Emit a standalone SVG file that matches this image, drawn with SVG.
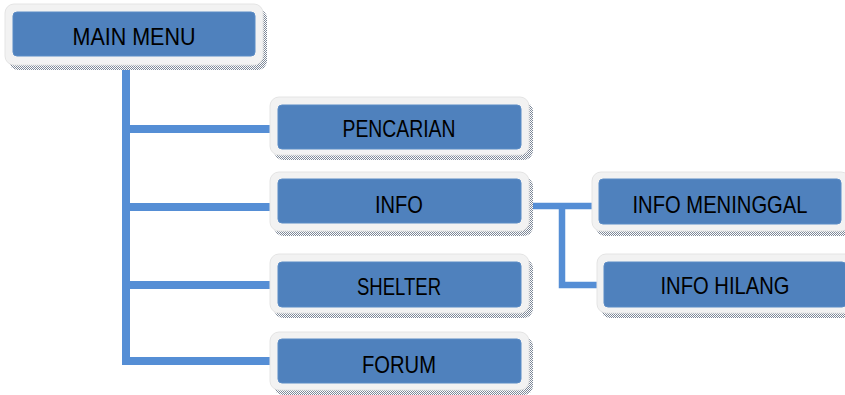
<svg xmlns="http://www.w3.org/2000/svg" width="845" height="395" viewBox="0 0 845 395">
<defs>
<pattern id="dots" width="2" height="2" patternUnits="userSpaceOnUse">
<rect width="2" height="2" fill="#ffffff"/>
<rect width="1" height="1" fill="#7d8898"/>
<rect x="1" y="1" width="1" height="1" fill="#7d8898"/>
</pattern>
</defs>
<style>
.sh{fill:url(#dots);}
.fr{fill:#f2f2f2;stroke:#e4e4e4;stroke-width:1;}
.bx{fill:#4f81bd;stroke:#5b8cc6;stroke-width:1;}
.tx{font-family:"Liberation Sans",Arial,sans-serif;font-size:24px;fill:#000;text-anchor:middle;}
.ln{fill:none;stroke:#558ed5;stroke-width:8;stroke-linejoin:miter;}
.ln2{fill:none;stroke:#558ed5;stroke-width:6.5;stroke-linejoin:miter;}
</style>
<g id="connectors">
<path class="ln" d="M126 63 V361 H270"/>
<path class="ln" d="M126 129 H270"/>
<path class="ln" d="M126 207 H270"/>
<path class="ln" d="M126 285 H270"/>
<path class="ln2" d="M528 206 H592"/>
<path class="ln2" d="M562 206 V285 H597"/>
</g>
<g id="main-menu">
<rect class="sh" x="9" y="9" width="258" height="61" rx="9"/>
<rect class="fr" x="5" y="4" width="258" height="61" rx="9"/>
<rect class="bx" x="13" y="12" width="242" height="44" rx="4"/>
<text class="tx" x="134" y="45" textLength="123" lengthAdjust="spacingAndGlyphs">MAIN MENU</text>
</g>
<g id="pencarian">
<rect class="sh" x="274" y="102" width="259" height="58" rx="9"/>
<rect class="fr" x="270" y="97" width="259" height="58" rx="9"/>
<rect class="bx" x="278" y="105" width="243" height="44" rx="4"/>
<text class="tx" x="399" y="137" textLength="113" lengthAdjust="spacingAndGlyphs">PENCARIAN</text>
</g>
<g id="info">
<rect class="sh" x="274" y="177" width="259" height="59" rx="9"/>
<rect class="fr" x="270" y="172" width="259" height="59" rx="9"/>
<rect class="bx" x="278" y="179" width="243" height="44" rx="4"/>
<text class="tx" x="399" y="213" textLength="48" lengthAdjust="spacingAndGlyphs">INFO</text>
</g>
<g id="shelter">
<rect class="sh" x="274" y="259" width="259" height="59" rx="9"/>
<rect class="fr" x="270" y="254" width="259" height="59" rx="9"/>
<rect class="bx" x="278" y="262" width="243" height="45" rx="4"/>
<text class="tx" x="399" y="295" textLength="84" lengthAdjust="spacingAndGlyphs">SHELTER</text>
</g>
<g id="forum">
<rect class="sh" x="274" y="337" width="259" height="58" rx="9"/>
<rect class="fr" x="270" y="332" width="259" height="58" rx="9"/>
<rect class="bx" x="278" y="339" width="243" height="44" rx="4"/>
<text class="tx" x="399" y="373" textLength="74" lengthAdjust="spacingAndGlyphs">FORUM</text>
</g>
<g id="info-meninggal">
<rect class="sh" x="596" y="177" width="258" height="59" rx="9"/>
<rect class="fr" x="592" y="172" width="258" height="59" rx="9"/>
<rect class="bx" x="599" y="179" width="242" height="45" rx="4"/>
<text class="tx" x="720" y="213" textLength="175" lengthAdjust="spacingAndGlyphs">INFO MENINGGAL</text>
</g>
<g id="info-hilang">
<rect class="sh" x="601" y="259" width="258" height="59" rx="9"/>
<rect class="fr" x="597" y="254" width="258" height="59" rx="9"/>
<rect class="bx" x="604" y="262" width="242" height="45" rx="4"/>
<text class="tx" x="725" y="294" textLength="129" lengthAdjust="spacingAndGlyphs">INFO HILANG</text>
</g>
</svg>
